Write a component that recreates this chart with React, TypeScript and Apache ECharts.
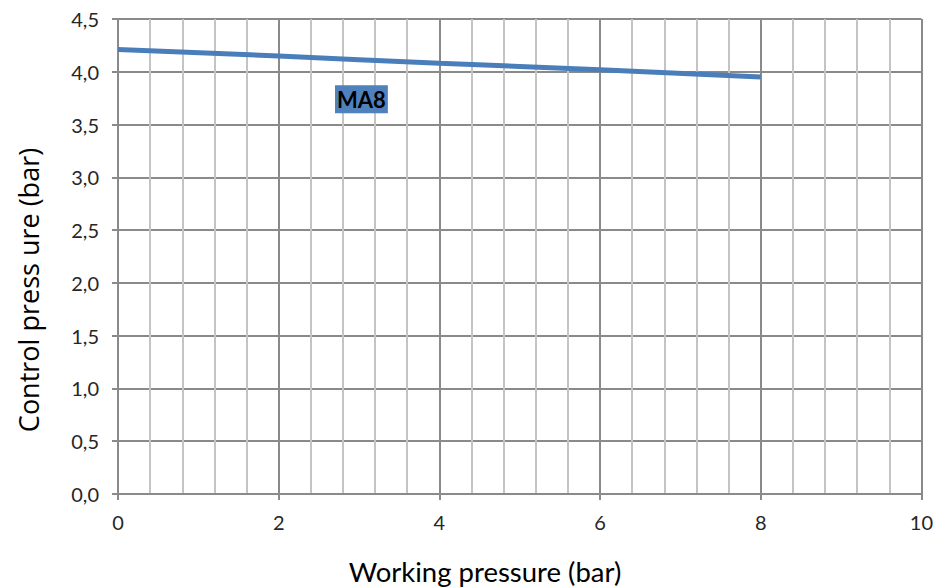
import React, { useEffect, useRef } from "react";
import * as echarts from "echarts";

const seriesName = "MA8";
const workingPressure = [0, 2, 4, 6, 8];
const controlPressure = [4.21, 4.15, 4.08, 4.02, 3.95];
const labelPoint = [3.03, 3.74];
const xTitle = "Working pressure (bar)";
const yTitle = "Control press ure (bar)";

export default function App() {
  const ref = useRef<HTMLDivElement>(null);
  useEffect(() => {
    if (!ref.current) return;
    const chart = echarts.init(ref.current, null, { renderer: "svg" });
    const font = "Lato, 'Open Sans', sans-serif";
    const major = "#8a8a8a";
    const minor = "#c4c4c4";
    chart.setOption({
      animation: false,
      grid: { left: 118, right: 14, top: 19, bottom: 94 },
      graphic: [
        {
          type: "text",
          x: 485,
          y: 571,
          style: {
            text: xTitle,
            fontFamily: font,
            fontSize: 27.5,
            fill: "#000",
            align: "center",
            verticalAlign: "middle",
          },
        },
        {
          type: "text",
          x: 28,
          y: 290,
          rotation: Math.PI / 2,
          style: {
            text: yTitle,
            fontFamily: "'Open Sans', Lato, sans-serif",
            fontSize: 27,
            fill: "#000",
            align: "center",
            verticalAlign: "middle",
          },
        },
      ],
      xAxis: [
        {
          type: "value",
          min: 0,
          max: 10,
          interval: 0.4,
          axisLine: { show: false },
          axisTick: { show: false },
          axisLabel: { show: false },
          splitLine: { show: true, lineStyle: { color: minor, width: 2 } },
        },
        {
          type: "value",
          min: 0,
          max: 10,
          interval: 2,
          position: "bottom",
          axisLine: { show: true, onZero: false, lineStyle: { color: major, width: 2 } },
          axisTick: { show: true, length: 6, lineStyle: { color: major, width: 2 } },
          axisLabel: { fontFamily: font, fontSize: 20, color: "#262626", margin: 18 },
          splitLine: { show: true, lineStyle: { color: major, width: 2 } },
        },
      ],
      yAxis: {
        type: "value",
        min: 0,
        max: 4.5,
        interval: 0.5,
        axisLine: { show: true, lineStyle: { color: major, width: 2 } },
        axisTick: { show: true, length: 6, lineStyle: { color: major, width: 2 } },
        axisLabel: {
          fontFamily: font,
          fontSize: 20,
          color: "#262626",
          margin: 19,
          formatter: (v: number) => v.toFixed(1).replace(".", ","),
        },
        splitLine: { show: true, lineStyle: { color: major, width: 2 } },
      },
      series: [
        {
          name: seriesName,
          type: "line",
          xAxisIndex: 1,
          data: workingPressure.map((x, i) => [x, controlPressure[i]]),
          showSymbol: false,
          smooth: true,
          lineStyle: { color: "#4a7ebb", width: 5 },
          markPoint: {
            symbolSize: 0,
            data: [
              {
                coord: labelPoint,
                label: {
                  show: true,
                  formatter: seriesName,
                  fontFamily: font,
                  fontWeight: "bold",
                  fontSize: 22,
                  color: "#000",
                  backgroundColor: "#4f81bd",
                  padding: [4, 2, 2, 2],
                  position: "inside",
                },
              },
            ],
          },
        },
      ],
    });
    return () => chart.dispose();
  }, []);
  return (
    <div
      ref={ref}
      style={{ position: "fixed", left: 0, top: 0, width: 936, height: 588, background: "#fff" }}
    />
  );
}
